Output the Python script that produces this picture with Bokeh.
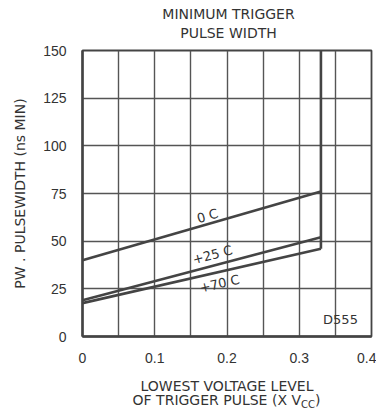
import math
from bokeh.plotting import figure
from bokeh.models import (Range1d, FixedTicker, CustomJSTickFormatter, Label, LinearAxis)
from bokeh.embed import file_html
from bokeh.resources import INLINE

# ---- data ----
x_vals = [0.0, 0.33]
pw_0c = [40.0, 76.0]
pw_25c = [19.0, 52.0]
pw_70c = [17.5, 46.0]
boundary_x = 0.33
y_ticks = [0, 25, 50, 75, 100, 125, 150]
x_ticks = [0, 0.1, 0.2, 0.3, 0.4]
x_grid = [0.05, 0.1, 0.15, 0.2, 0.25, 0.3, 0.35]
y_grid = [25, 50, 75, 100, 125]
curve_labels = ["0 C", "+25 C", "+70 C"]
title_lines = ["MINIMUM TRIGGER", "PULSE WIDTH"]

W, H = 376, 412
BL, BR, BT, BB = 82, 5, 50, 75
fw = W - BL - BR
fh = H - BT - BB
X0, X1, Y0, Y1 = 0, 0.4, 0, 150

def px_x(px):  # canvas px -> data x
    return X0 + (px - BL) / fw * (X1 - X0)

def px_y(py):  # canvas px -> data y
    return Y0 + ((H - BB) - py) / fh * (Y1 - Y0)

def slope_angle(ys):
    dy = (ys[1] - ys[0]) / (Y1 - Y0) * fh
    dx = (x_vals[1] - x_vals[0]) / (X1 - X0) * fw
    return math.atan2(dy, dx)

INK = "#444444"
TXT = "#333333"
FONT = "DejaVu Sans"

p = figure(width=W, height=H, x_range=Range1d(X0, X1), y_range=Range1d(Y0, Y1),
           output_backend="svg", toolbar_location=None, title=None,
           min_border_left=BL, min_border_right=BR, min_border_top=BT, min_border_bottom=BB)
p.background_fill_color = "white"
p.border_fill_color = "white"
p.outline_line_color = INK
p.outline_line_width = 1.8

xa = p.xaxis[0]
ya = p.yaxis[0]
for ax in (xa, ya):
    ax.major_tick_line_color = None
    ax.minor_tick_line_color = None
    ax.axis_line_color = INK
    ax.axis_line_width = 2.5
    ax.major_label_text_font = "Liberation Sans"
    ax.major_label_text_font_size = "14px"
    ax.major_label_text_color = TXT
    ax.major_label_standoff = 10
    ax.axis_label_text_font = FONT
    ax.axis_label_text_font_size = "14px"
    ax.axis_label_text_font_style = "normal"
    ax.axis_label_text_color = TXT

xa.ticker = FixedTicker(ticks=x_ticks)
xa.formatter = CustomJSTickFormatter(code="return tick == 0 ? '0' : tick.toFixed(1);")
ya.ticker = FixedTicker(ticks=y_ticks)
ya.formatter = CustomJSTickFormatter(code="return tick.toFixed(0);")
ya.axis_label = "PW . PULSEWIDTH (ns MIN)"
ya.axis_label_standoff = 12
xa.axis_label = "LOWEST VOLTAGE LEVEL"
xa.axis_label_standoff = 12

def text_axis(texts, positions, size, standoff, side):
    ax = LinearAxis(ticker=FixedTicker(ticks=positions),
                    formatter=CustomJSTickFormatter(args=dict(t=texts),
                                                    code="return t[index];"))
    ax.axis_line_color = None
    ax.major_tick_line_color = None
    ax.minor_tick_line_color = None
    ax.major_tick_out = 0
    ax.major_tick_in = 0
    ax.major_label_standoff = standoff
    ax.major_label_text_font = FONT
    ax.major_label_text_font_size = size
    ax.major_label_text_color = TXT
    p.add_layout(ax, side)

# title lines (inner first)
text_axis([title_lines[1]], [px_x(228)], "14px", 10, "above")
text_axis([title_lines[0]], [px_x(228)], "14px", 0, "above")

# second line of the x title, with V_CC subscript
text_axis(["OF TRIGGER PULSE (X V", ")"], [px_x(216.3), px_x(317.2)], "14px", -5, "below")
text_axis(["CC"], [px_x(307.4)], "10px", -12, "below")

p.xgrid.ticker = FixedTicker(ticks=x_grid)
p.ygrid.ticker = FixedTicker(ticks=y_grid)
for g in (p.xgrid[0], p.ygrid[0]):
    g.grid_line_color = "#555555"
    g.grid_line_width = 1.4

# curves
for ys in (pw_0c, pw_25c, pw_70c):
    p.line(x_vals, ys, line_color=INK, line_width=2.6)
p.segment(x0=[boundary_x], y0=[Y1], x1=[boundary_x], y1=[pw_70c[-1]],
          line_color=INK, line_width=2.6)

# curve labels
lab_pos = [(207, 216), (212, 255), (219, 284)]
for txt, ys, (lx, ly) in zip(curve_labels, (pw_0c, pw_25c, pw_70c), lab_pos):
    p.add_layout(Label(x=px_x(lx), y=px_y(ly), text=txt, angle=slope_angle(ys),
                       text_align="center", text_baseline="middle",
                       text_font=FONT, text_font_size="13px", text_color=TXT))
p.add_layout(Label(x=px_x(340), y=px_y(320), text="D555", text_align="center",
                   text_baseline="middle", text_font=FONT,
                   text_font_size="13px", text_color=TXT))

open("out.html", "w").write(file_html(p, INLINE))
